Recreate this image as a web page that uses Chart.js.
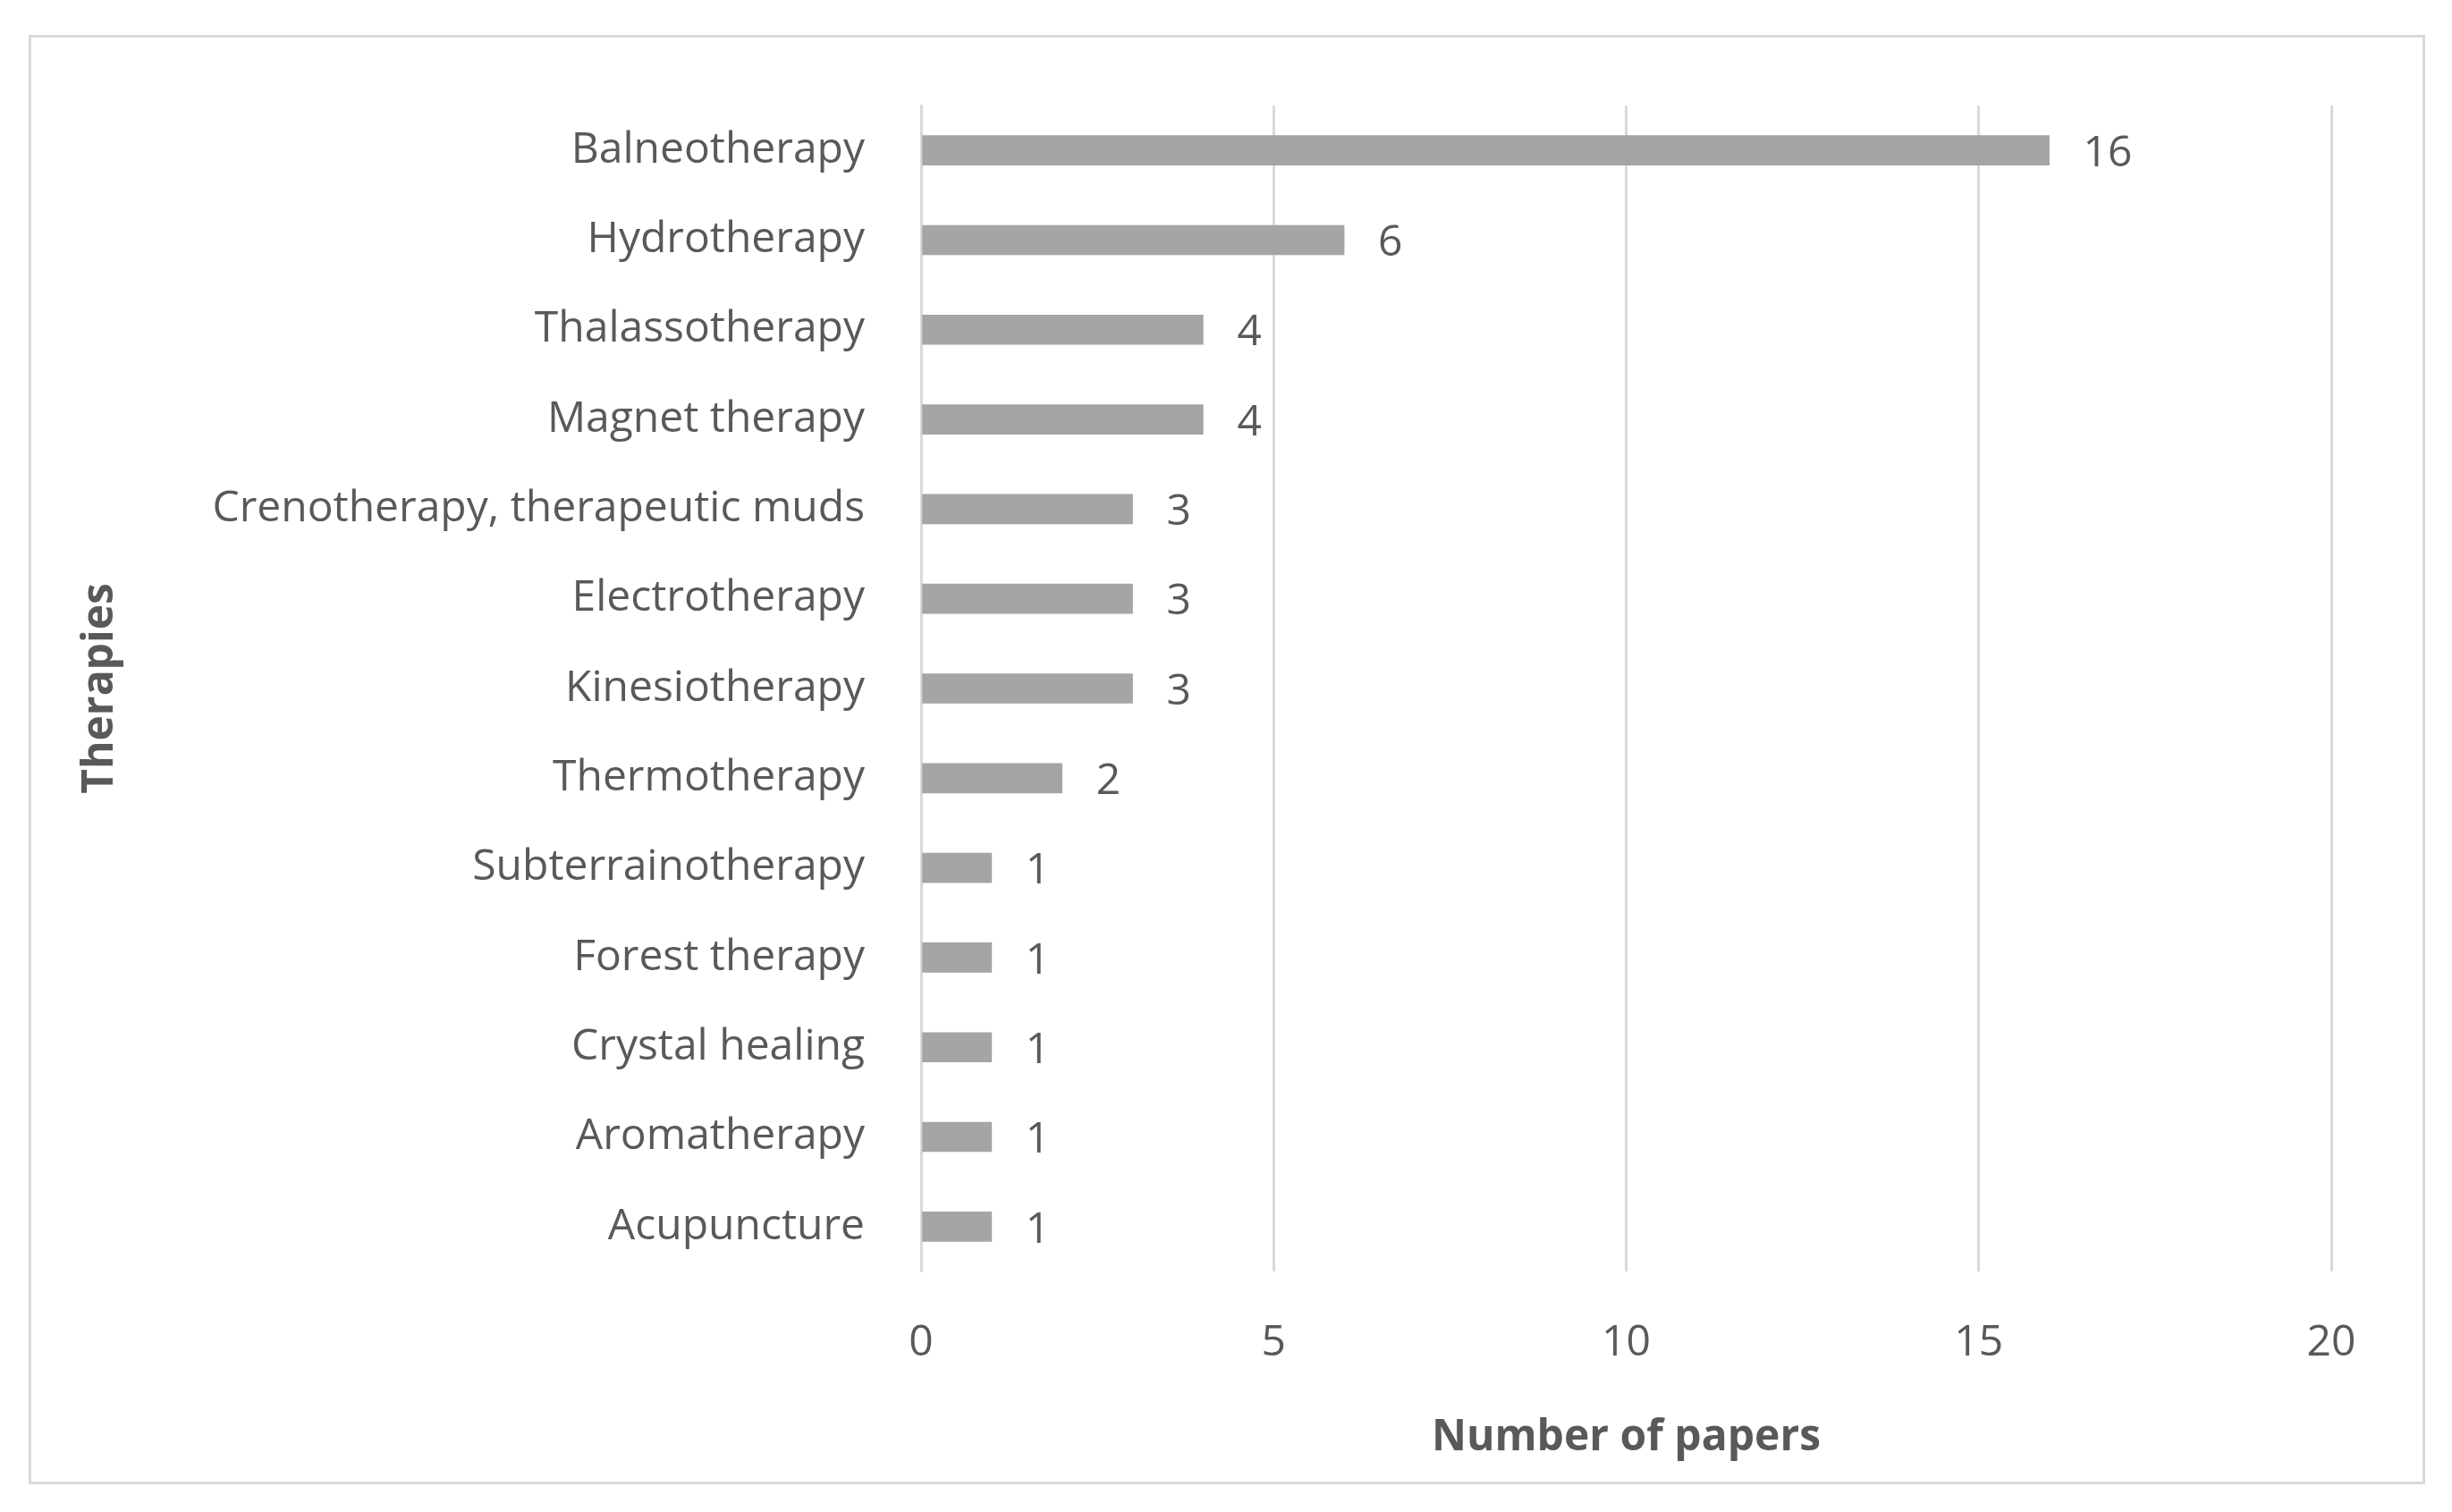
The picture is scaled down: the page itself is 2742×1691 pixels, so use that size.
<!DOCTYPE html>
<html>
<head>
<meta charset="utf-8">
<script src="https://cdn.jsdelivr.net/npm/chart.js@4"></script>
<style>
  html, body { margin: 0; padding: 0; background: #fff; }
  #wrap { position: relative; width: 2742px; height: 1691px; }
  #frame { position: absolute; left: 32px; top: 39px; width: 2674px; height: 1615px; border: 3px solid #D9D9D9; }
  canvas { position: absolute; left: 0; top: 0; }
</style>
</head>
<body>
<div id="wrap">
  <div id="frame"></div>
  <canvas id="chart" width="2742" height="1691"></canvas>
</div>
<script>
const labels = ["Balneotherapy", "Hydrotherapy", "Thalassotherapy", "Magnet therapy",
  "Crenotherapy, therapeutic muds", "Electrotherapy", "Kinesiotherapy", "Thermotherapy",
  "Subterrainotherapy", "Forest therapy", "Crystal healing", "Aromatherapy", "Acupuncture"];
const papers = [16, 6, 4, 4, 3, 3, 3, 2, 1, 1, 1, 1, 1];
const xTicks = [0, 5, 10, 15, 20];

const textColor = "#595959";
const fontFamily = "'Open Sans', 'Noto Sans', sans-serif";

// value labels at the end of each bar
const barValues = {
  id: "barValues",
  afterDatasetsDraw(chart) {
    const ctx = chart.ctx;
    const meta = chart.getDatasetMeta(0);
    ctx.save();
    ctx.fillStyle = textColor;
    ctx.font = "48px " + fontFamily;
    ctx.textBaseline = "middle";
    meta.data.forEach((bar, i) => {
      ctx.fillText(String(papers[i]), bar.x + 38, bar.y + 4);
    });
    ctx.restore();
  }
};

new Chart(document.getElementById("chart"), {
  type: "bar",
  data: {
    labels: labels,
    datasets: [{
      data: papers,
      backgroundColor: "#A5A5A5",
      barThickness: 33,
    }],
  },
  options: {
    indexAxis: "y",
    responsive: false,
    animation: false,
    layout: { padding: { left: 80, right: 135, top: 118, bottom: 50 } },
    plugins: {
      legend: { display: false },
      tooltip: { enabled: false },
    },
    scales: {
      x: {
        min: 0,
        max: 20,
        afterBuildTicks: (s) => { s.ticks = xTicks.map(v => ({ value: v })); },
        grid: { color: "#D9D9D9", lineWidth: 3, drawTicks: false },
        border: { display: false },
        ticks: { color: textColor, padding: 52, font: { size: 48, family: fontFamily } },
        title: { display: true, text: "Number of papers", color: textColor, padding: { top: 18 },
          font: { size: 48, family: fontFamily, weight: "bold" } },
        afterFit: (s) => { s.height = 1691 - 1422 - 50; },
      },
      y: {
        grid: { display: false },
        border: { color: "#D9D9D9", width: 3 },
        ticks: { color: textColor, padding: 55, font: { size: 48, family: fontFamily } },
        title: { display: true, text: "Therapies", color: textColor,
          font: { size: 48, family: fontFamily, weight: "bold" } },
        afterFit: (s) => { s.width = 1030 - 80; },
      },
    },
  },
  plugins: [barValues],
});
</script>
</body>
</html>
